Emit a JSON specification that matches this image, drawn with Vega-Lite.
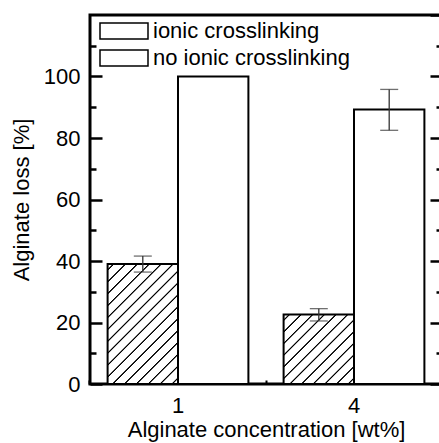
{
  "$schema": "https://vega.github.io/schema/vega-lite/v6.json",
  "width": 352,
  "height": 369,
  "autosize": {"type": "none"},
  "padding": {"left": 90, "top": 15, "right": -3, "bottom": 59},
  "data": {
    "values": [
      {"conc": "1", "group": "ionic crosslinking", "value": 39, "lo": 36.4, "hi": 41.6},
      {"conc": "1", "group": "no ionic crosslinking", "value": 100},
      {"conc": "4", "group": "ionic crosslinking", "value": 22.6, "lo": 20.5, "hi": 24.5},
      {"conc": "4", "group": "no ionic crosslinking", "value": 89.3, "lo": 82.5, "hi": 95.8}
    ]
  },
  "encoding": {
    "x": {"field": "conc", "type": "nominal", "sort": ["1", "4"], "scale": {"paddingInner": 0.2, "paddingOuter": 0.1}},
    "xOffset": {"field": "group", "type": "nominal", "sort": ["ionic crosslinking", "no ionic crosslinking"], "scale": {"paddingInner": 0, "paddingOuter": 0}},
    "y": {"type": "quantitative", "scale": {"domain": [0, 120], "nice": false, "zero": true}}
  },
  "layer": [
    {
      "mark": {"type": "bar", "strokeWidth": 2},
      "encoding": {
        "x": {"field": "conc", "type": "nominal", "sort": ["1", "4"], "axis": {"title": "Alginate concentration [wt%]", "labelAngle": 0, "ticks": false, "domain": false, "labelPadding": 11, "titlePadding": 3}},
        "y": {"field": "value", "type": "quantitative", "axis": {"title": "Alginate loss [%]", "values": [0, 20, 40, 60, 80, 100], "tickSize": -12, "tickWidth": 2.5, "domain": false, "labelPadding": 22, "titlePadding": 10}},
        "fill": {
          "condition": [
            {"test": "datum.group === 'ionic crosslinking' && datum.conc === '1'", "value": {"gradient": "linear", "x1": 0, "y1": 0, "x2": 0.693, "y2": 1.1803, "stops": [
              {"offset": 0.0244, "color": "#fff"}, {"offset": 0.0291, "color": "#000"}, {"offset": 0.0334, "color": "#000"}, {"offset": 0.0381, "color": "#fff"},
              {"offset": 0.0869, "color": "#fff"}, {"offset": 0.0916, "color": "#000"}, {"offset": 0.0959, "color": "#000"}, {"offset": 0.1006, "color": "#fff"},
              {"offset": 0.1494, "color": "#fff"}, {"offset": 0.1541, "color": "#000"}, {"offset": 0.1584, "color": "#000"}, {"offset": 0.1631, "color": "#fff"},
              {"offset": 0.2119, "color": "#fff"}, {"offset": 0.2166, "color": "#000"}, {"offset": 0.2209, "color": "#000"}, {"offset": 0.2256, "color": "#fff"},
              {"offset": 0.2744, "color": "#fff"}, {"offset": 0.2791, "color": "#000"}, {"offset": 0.2834, "color": "#000"}, {"offset": 0.2881, "color": "#fff"},
              {"offset": 0.3369, "color": "#fff"}, {"offset": 0.3416, "color": "#000"}, {"offset": 0.3459, "color": "#000"}, {"offset": 0.3506, "color": "#fff"},
              {"offset": 0.3994, "color": "#fff"}, {"offset": 0.4041, "color": "#000"}, {"offset": 0.4084, "color": "#000"}, {"offset": 0.4131, "color": "#fff"},
              {"offset": 0.4619, "color": "#fff"}, {"offset": 0.4666, "color": "#000"}, {"offset": 0.4709, "color": "#000"}, {"offset": 0.4756, "color": "#fff"},
              {"offset": 0.5244, "color": "#fff"}, {"offset": 0.5291, "color": "#000"}, {"offset": 0.5334, "color": "#000"}, {"offset": 0.5381, "color": "#fff"},
              {"offset": 0.5869, "color": "#fff"}, {"offset": 0.5916, "color": "#000"}, {"offset": 0.5959, "color": "#000"}, {"offset": 0.6006, "color": "#fff"},
              {"offset": 0.6494, "color": "#fff"}, {"offset": 0.6541, "color": "#000"}, {"offset": 0.6584, "color": "#000"}, {"offset": 0.6631, "color": "#fff"},
              {"offset": 0.7119, "color": "#fff"}, {"offset": 0.7166, "color": "#000"}, {"offset": 0.7209, "color": "#000"}, {"offset": 0.7256, "color": "#fff"},
              {"offset": 0.7744, "color": "#fff"}, {"offset": 0.7791, "color": "#000"}, {"offset": 0.7834, "color": "#000"}, {"offset": 0.7881, "color": "#fff"},
              {"offset": 0.8369, "color": "#fff"}, {"offset": 0.8416, "color": "#000"}, {"offset": 0.8459, "color": "#000"}, {"offset": 0.8506, "color": "#fff"},
              {"offset": 0.8994, "color": "#fff"}, {"offset": 0.9041, "color": "#000"}, {"offset": 0.9084, "color": "#000"}, {"offset": 0.9131, "color": "#fff"},
              {"offset": 0.9619, "color": "#fff"}, {"offset": 0.9666, "color": "#000"}, {"offset": 0.9709, "color": "#000"}, {"offset": 0.9756, "color": "#fff"}
            ]}},
            {"test": "datum.group === 'ionic crosslinking'", "value": {"gradient": "linear", "x1": 0, "y1": 0, "x2": 1.0064, "y2": 0.9935, "stops": [
              {"offset": 0.0324, "color": "#fff"}, {"offset": 0.0388, "color": "#000"}, {"offset": 0.0446, "color": "#000"}, {"offset": 0.051, "color": "#fff"},
              {"offset": 0.1157, "color": "#fff"}, {"offset": 0.1221, "color": "#000"}, {"offset": 0.1279, "color": "#000"}, {"offset": 0.1343, "color": "#fff"},
              {"offset": 0.199, "color": "#fff"}, {"offset": 0.2054, "color": "#000"}, {"offset": 0.2112, "color": "#000"}, {"offset": 0.2176, "color": "#fff"},
              {"offset": 0.2824, "color": "#fff"}, {"offset": 0.2888, "color": "#000"}, {"offset": 0.2946, "color": "#000"}, {"offset": 0.301, "color": "#fff"},
              {"offset": 0.3657, "color": "#fff"}, {"offset": 0.3721, "color": "#000"}, {"offset": 0.3779, "color": "#000"}, {"offset": 0.3843, "color": "#fff"},
              {"offset": 0.449, "color": "#fff"}, {"offset": 0.4554, "color": "#000"}, {"offset": 0.4612, "color": "#000"}, {"offset": 0.4676, "color": "#fff"},
              {"offset": 0.5324, "color": "#fff"}, {"offset": 0.5388, "color": "#000"}, {"offset": 0.5446, "color": "#000"}, {"offset": 0.551, "color": "#fff"},
              {"offset": 0.6157, "color": "#fff"}, {"offset": 0.6221, "color": "#000"}, {"offset": 0.6279, "color": "#000"}, {"offset": 0.6343, "color": "#fff"},
              {"offset": 0.699, "color": "#fff"}, {"offset": 0.7054, "color": "#000"}, {"offset": 0.7112, "color": "#000"}, {"offset": 0.7176, "color": "#fff"},
              {"offset": 0.7824, "color": "#fff"}, {"offset": 0.7888, "color": "#000"}, {"offset": 0.7946, "color": "#000"}, {"offset": 0.801, "color": "#fff"},
              {"offset": 0.8657, "color": "#fff"}, {"offset": 0.8721, "color": "#000"}, {"offset": 0.8779, "color": "#000"}, {"offset": 0.8843, "color": "#fff"},
              {"offset": 0.949, "color": "#fff"}, {"offset": 0.9554, "color": "#000"}, {"offset": 0.9612, "color": "#000"}, {"offset": 0.9676, "color": "#fff"}
            ]}}
          ],
          "value": "white"
        },
        "stroke": {
          "field": "group",
          "type": "nominal",
          "scale": {"domain": ["ionic crosslinking", "no ionic crosslinking"], "range": ["black", "black"]},
          "legend": {
            "title": null,
            "orient": "none",
            "legendX": 7,
            "legendY": 5,
            "padding": 0,
            "symbolType": "M-3,-1H3V1H-3Z",
            "symbolSize": 256,
            "symbolOffset": 16,
            "symbolStrokeColor": "black",
            "symbolStrokeWidth": 1.5,
            "labelOffset": 18,
            "labelLimit": 400,
            "labelFont": "Liberation Sans",
            "labelFontSize": 22,
            "labelColor": "black",
            "rowPadding": 5,
            "encode": {
              "symbols": {
                "opacity": {"value": 1},
                "fillOpacity": {"value": 1},
                "fill": {"value": {"gradient": "linear", "x1": 0, "y1": 0, "x2": 1.2, "y2": 0.4, "stops": [
                    {"offset": 0.0700, "color": "#fff"}, {"offset": 0.0838, "color": "#000"}, {"offset": 0.0963, "color": "#000"}, {"offset": 0.1100, "color": "#fff"},
                    {"offset": 0.2500, "color": "#fff"}, {"offset": 0.2638, "color": "#000"}, {"offset": 0.2763, "color": "#000"}, {"offset": 0.2900, "color": "#fff"},
                    {"offset": 0.4300, "color": "#fff"}, {"offset": 0.4438, "color": "#000"}, {"offset": 0.4563, "color": "#000"}, {"offset": 0.4700, "color": "#fff"},
                    {"offset": 0.6100, "color": "#fff"}, {"offset": 0.6238, "color": "#000"}, {"offset": 0.6363, "color": "#000"}, {"offset": 0.6500, "color": "#fff"},
                    {"offset": 0.7900, "color": "#fff"}, {"offset": 0.8038, "color": "#000"}, {"offset": 0.8163, "color": "#000"}, {"offset": 0.8300, "color": "#fff"}
                  ]}}
              }
            }
          }
        }
      }
    },
    {
      "transform": [{"filter": "isValid(datum.lo)"}],
      "mark": {"type": "rule", "stroke": "#333333", "strokeWidth": 1.3},
      "encoding": {
        "x": {"field": "conc", "type": "nominal", "sort": ["1", "4"], "axis": {"title": null, "labels": false, "domain": false, "bandPosition": -0.125, "tickSize": -4, "tickWidth": 2, "orient": "bottom"}},
        "y": {"field": "lo", "type": "quantitative", "axis": {"title": null, "labels": false, "domain": false, "values": [10, 30, 50, 70, 90, 110], "tickSize": -6, "tickWidth": 2.5, "orient": "left"}},
        "y2": {"field": "hi"}
      }
    },
    {
      "transform": [{"filter": "isValid(datum.lo)"}],
      "mark": {"type": "tick", "color": "#333333", "thickness": 1.3, "size": 18},
      "encoding": {
        "x": {"field": "conc", "type": "nominal", "sort": ["1", "4"], "axis": null},
        "y": {"field": "hi", "type": "quantitative", "axis": {"title": null, "labels": false, "domain": false, "values": [0, 20, 40, 60, 80, 100, 120], "tickSize": -12, "tickWidth": 2.5, "orient": "right"}}
      }
    },
    {
      "transform": [{"filter": "isValid(datum.lo)"}],
      "mark": {"type": "tick", "color": "#333333", "thickness": 1.3, "size": 18},
      "encoding": {
        "x": {"field": "conc", "type": "nominal", "sort": ["1", "4"], "axis": null},
        "y": {"field": "lo", "type": "quantitative", "axis": {"title": null, "labels": false, "domain": false, "values": [10, 30, 50, 70, 90, 110], "tickSize": -6, "tickWidth": 2.5, "orient": "right"}}
      }
    }
  ],
  "resolve": {"axis": {"x": "independent", "y": "independent"}},
  "config": {
    "view": {"stroke": "black", "strokeWidth": 3},
    "axis": {
      "grid": false,
      "labelFont": "Liberation Sans",
      "titleFont": "Liberation Sans",
      "labelFontSize": 22,
      "titleFontSize": 22,
      "titleFontWeight": "normal",
      "labelColor": "black",
      "titleColor": "black",
      "tickColor": "black",
      "domainColor": "black",
      "tickCap": "butt"
    }
  }
}
